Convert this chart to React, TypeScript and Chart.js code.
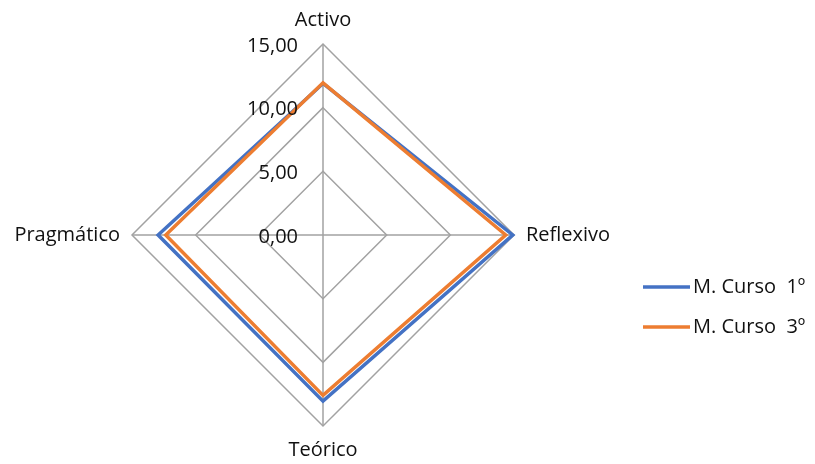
import React, { useEffect, useRef } from "react";
import { Chart, registerables } from "chart.js";

Chart.register(...registerables);

const categories = ["Activo", "Reflexivo", "Teórico", "Pragmático"];
const curso1 = [11.9, 14.9, 13.05, 12.95];
const curso3 = [11.95, 14.35, 12.6, 12.35];
const seriesNames = ["M. Curso  1º", "M. Curso  3º"];
const tickValues = [0, 5, 10, 15];
const tickLabels = ["0,00", "5,00", "10,00", "15,00"];

const BLUE = "#4472C4";
const ORANGE = "#ED7D31";
const GRID = "#A2A2A2";
const FONT = "'Open Sans', 'Noto Sans', sans-serif";

const tickLabelPlugin = {
  id: "tickLabelPlugin",
  afterDraw(chart: any) {
    const scale = chart.scales.r;
    const ctx = chart.ctx;
    ctx.save();
    ctx.font = `20px ${FONT}`;
    ctx.fillStyle = "#111";
    ctx.textAlign = "right";
    ctx.textBaseline = "middle";
    tickValues.forEach((v, i) => {
      const d = scale.getDistanceFromCenterForValue(v);
      ctx.fillText(tickLabels[i], scale.xCenter - 25, scale.yCenter - d + 2);
    });
    ctx.restore();
  },
};

const legendPlugin = {
  id: "customLegend",
  afterDraw(chart: any) {
    const ctx = chart.ctx;
    const x0 = chart.width - 172;
    const y0 = chart.height / 2 + 55;
    ctx.save();
    chart.data.datasets.forEach((ds: any, i: number) => {
      const y = y0 + i * 40;
      ctx.strokeStyle = ds.borderColor;
      ctx.lineWidth = 3.5;
      ctx.beginPath();
      ctx.moveTo(x0, y);
      ctx.lineTo(x0 + 47, y);
      ctx.stroke();
      ctx.font = `20px ${FONT}`;
      ctx.fillStyle = "#111";
      ctx.textAlign = "left";
      ctx.textBaseline = "middle";
      ctx.fillText(ds.label, x0 + 50, y);
    });
    ctx.restore();
  },
};

export default function App() {
  const ref = useRef<HTMLCanvasElement>(null);
  useEffect(() => {
    if (!ref.current) return;
    const chart = new Chart(ref.current, {
      type: "radar",
      data: {
        labels: categories,
        datasets: [
          {
            label: seriesNames[0],
            data: curso1,
            borderColor: BLUE,
            backgroundColor: "transparent",
            borderWidth: 3.5,
            pointRadius: 0,
            fill: false,
            order: 2,
          },
          {
            label: seriesNames[1],
            data: curso3,
            borderColor: ORANGE,
            backgroundColor: "transparent",
            borderWidth: 3.5,
            pointRadius: 0,
            fill: false,
            order: 1,
          },
        ],
      },
      options: {
        animation: false,
        responsive: true,
        maintainAspectRatio: false,
        layout: { padding: { top: 8, bottom: 1, left: 0, right: 189 } },
        plugins: {
          legend: { display: false },
          tooltip: { enabled: false },
        },
        scales: {
          r: {
            min: 0,
            max: 15,
            ticks: { stepSize: 5, display: false },
            grid: { color: GRID, lineWidth: 1.5 },
            angleLines: { color: GRID, lineWidth: 1.5 },
            pointLabels: {
              color: "#111",
              padding: 12,
              font: { family: FONT, size: 20 },
            },
          },
        },
      },
      plugins: [tickLabelPlugin, legendPlugin],
    });
    return () => chart.destroy();
  }, []);
  return (
    <div style={{ position: "fixed", left: 0, top: 0, width: 815, height: 464, background: "#fff" }}>
      <canvas ref={ref} />
    </div>
  );
}
